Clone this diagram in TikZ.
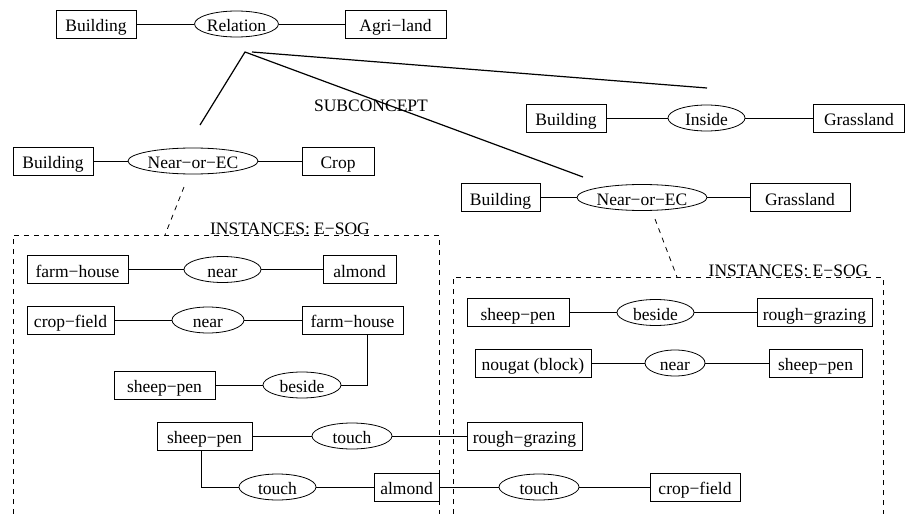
\documentclass[tikz,border=0pt]{standalone}
\usepackage{fontspec}
\setmainfont{Liberation Serif}
\usetikzlibrary{shapes.geometric}

\begin{document}
\begin{tikzpicture}[x=1pt,y=-1pt,
  every node/.style={font=\fontsize{17.5}{20}\selectfont},
  lbl/.style={text height=15pt, text depth=0pt},
  box/.style={draw, rectangle, inner sep=0pt, minimum height=28pt, line width=0.8pt, lbl},
  rel/.style={draw, ellipse, inner sep=0pt, minimum height=26pt, line width=0.8pt, lbl},
  link/.style={line width=0.8pt},
  sub/.style={line width=1.2pt},
  inst/.style={line width=0.8pt, dash pattern=on 5pt off 5pt},
]
\useasboundingbox (0,0) rectangle (906,514);

% generic relation
\node[box, minimum width=80pt]  (b0) at (96,24)    {Building};
\node[rel, minimum width=77pt]  (r0) at (236.5,24) {Relation};
\node[box, minimum width=101pt] (a0) at (395.5,24) {Agri−land};
\draw[link] (b0) -- (r0) -- (a0);

% subconcept links
\coordinate (apexL) at (245,52);
\coordinate (apexR) at (252,52);
\coordinate (subL)  at (200,125);
\coordinate (subI)  at (707,88);
\coordinate (subN)  at (583,177);
\draw[sub] (subL) -- (apexL) -- (subN);
\draw[sub] (apexR) -- (subI);
\node (subtxt) at (371,106) {SUBCONCEPT};

% Building inside Grassland
\node[box, minimum width=80pt]  (b1) at (566,118)   {Building};
\node[rel, minimum width=77pt]  (r1) at (706.5,118) {Inside};
\node[box, minimum width=91pt]  (g1) at (859,118)   {Grassland};
\draw[link] (b1) -- (r1) -- (g1);

% Building near Grassland
\node[box, minimum width=79pt]  (b2) at (500.5,197.5) {Building};
\node[rel, minimum width=130pt] (r2) at (642,197.5)   {Near−or−EC};
\node[box, minimum width=100pt] (g2) at (800,197.5)   {Grassland};
\draw[link] (b2) -- (r2) -- (g2);

% Building near Crop
\node[box, minimum width=80pt]  (b3) at (53,161)  {Building};
\node[rel, minimum width=130pt] (r3) at (193,161) {Near−or−EC};
\node[box, minimum width=72pt]  (c3) at (338,161) {Crop};
\draw[link] (b3) -- (r3) -- (c3);

% instance frame, left
\coordinate (dl1) at (184,187);
\coordinate (dl2) at (165,235);
\draw[inst] (dl1) -- (dl2);
\draw[inst] (13,514) -- (13,235) -- (439,235) -- (439,514);
\node[anchor=base, inner sep=0pt] (instL) at (290,234) {INSTANCES: E−SOG};

% instance frame, right
\coordinate (dr1) at (655,219);
\coordinate (dr2) at (677,277);
\draw[inst] (dr1) -- (dr2);
\draw[inst] (453,514) -- (453,277) -- (883,277) -- (883,514);
\node[anchor=base, inner sep=0pt] (instR) at (788.5,276) {INSTANCES: E−SOG};

% left instances
\node[box, minimum width=101pt] (fh1) at (77.5,269.5)  {farm−house};
\node[rel, minimum width=77pt]  (n1)  at (222.5,269.5) {near};
\node[box, minimum width=73pt]  (al1) at (359.5,269.5) {almond};
\draw[link] (fh1) -- (n1) -- (al1);

\node[box, minimum width=87pt]  (cf1) at (70.5,320)  {crop−field};
\node[rel, minimum width=72pt]  (n2)  at (208,320)   {near};
\node[box, minimum width=101pt] (fh2) at (352.5,320) {farm−house};
\draw[link] (cf1) -- (n2) -- (fh2);

\node[box, minimum width=101pt] (sp1) at (164.5,385) {sheep−pen};
\node[rel, minimum width=78pt]  (bs1) at (302,385)   {beside};
\coordinate (fh2hook) at (367,334);
\draw[link] (sp1) -- (bs1);
\draw[link] (bs1.east) -| (fh2hook);

\node[box, minimum width=95pt]  (sp2) at (204.5,436) {sheep−pen};
\node[rel, minimum width=80pt]  (t1)  at (352,436)   {touch};
\node[box, minimum width=115pt] (rg2) at (524.5,436) {rough−grazing};
\draw[link] (sp2) -- (t1) -- (rg2);

\node[rel, minimum width=77pt]  (t2)  at (277.5,487) {touch};
\node[box, minimum width=65pt]  (al2) at (406.5,487) {almond};
\node[rel, minimum width=80pt]  (t3)  at (539,487)   {touch};
\node[box, minimum width=90pt]  (cf2) at (695,487)   {crop−field};
\coordinate (sp2hook) at (201,450);
\draw[link] (sp2hook) |- (t2.west);
\draw[link] (t2) -- (al2) -- (t3) -- (cf2);

% right instances
\node[box, minimum width=102pt] (sp3) at (518,312.5)   {sheep−pen};
\node[rel, minimum width=77pt]  (bs2) at (655.5,312.5) {beside};
\node[box, minimum width=115pt] (rg3) at (814.5,312.5) {rough−grazing};
\draw[link] (sp3) -- (bs2) -- (rg3);

\node[box, minimum width=116pt] (nb)  at (533,363)   {nougat (block)};
\node[rel, minimum width=60pt]  (n3)  at (675,363)   {near};
\node[box, minimum width=93pt]  (sp4) at (815.5,363) {sheep−pen};
\draw[link] (nb) -- (n3) -- (sp4);
\end{tikzpicture}
\end{document}
